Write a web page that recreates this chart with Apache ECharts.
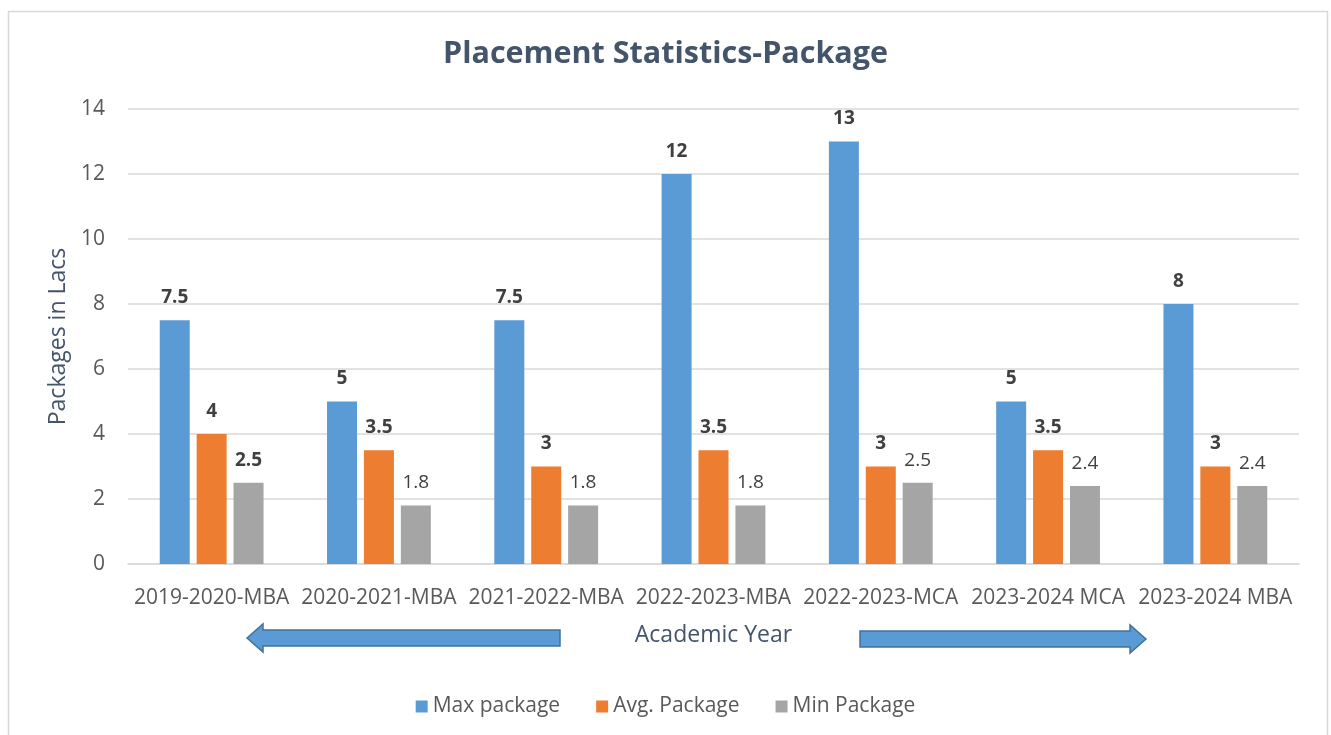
<!DOCTYPE html>
<html>
<head>
<meta charset="utf-8">
<script src="https://cdn.jsdelivr.net/npm/echarts@6/dist/echarts.min.js"></script>
<style>
    html, body { margin: 0; padding: 0; background: #fff; }
    #chart { width: 1331px; height: 735px; }
</style>
</head>
<body>
<div id="chart"></div>
<script>
// 数据
var years = ['2019-2020-MBA', '2020-2021-MBA', '2021-2022-MBA', '2022-2023-MBA', '2022-2023-MCA', '2023-2024 MCA', '2023-2024 MBA'];
var maxPackage = [7.5, 5, 7.5, 12, 13, 5, 8];
var avgPackage = [4, 3.5, 3, 3.5, 3, 3.5, 3];
var minPackage = [2.5, 1.8, 1.8, 1.8, 2.5, 2.4, 2.4];
var minBold = [true, false, false, false, false, false, false];

var font = '"Open Sans", "Noto Sans", sans-serif';

var myChart = echarts.init(document.getElementById('chart'));

function labelStyle(bold) {
    return {
        show: true,
        position: 'top',
        distance: 13,
        color: '#404040',
        fontSize: 19,
        fontFamily: font,
        fontWeight: bold ? 'bold' : 'normal'
    };
}

// 左右箭头
function arrow(x1, x2, yc, dir) {
    var sh = 8, hh = 14, hl = 16;
    var pts;
    if (dir < 0) {
        pts = [[x1, yc], [x1 + hl, yc - hh], [x1 + hl, yc - sh], [x2, yc - sh], [x2, yc + sh], [x1 + hl, yc + sh], [x1 + hl, yc + hh]];
    } else {
        pts = [[x2, yc], [x2 - hl, yc - hh], [x2 - hl, yc - sh], [x1, yc - sh], [x1, yc + sh], [x2 - hl, yc + sh], [x2 - hl, yc + hh]];
    }
    return {
        type: 'polygon',
        shape: {points: pts},
        style: {fill: '#5B9BD5', stroke: '#41719C', lineWidth: 1.5}
    };
}

var option = {
    backgroundColor: '#fff',
    title: {
        text: 'Placement Statistics-Package',
        left: 'center',
        top: 34,
        textStyle: {
            color: '#44546A',
            fontSize: 30.5,
            fontWeight: 'bold',
            fontFamily: font
        }
    },
    graphic: [
        {
            type: 'rect',
            shape: {x: 8.5, y: 11.5, width: 1319, height: 740},
            style: {fill: 'none', stroke: '#D9D9D9', lineWidth: 1.5},
            silent: true
        },
        arrow(247, 560, 638, -1),
        arrow(860, 1146, 639, 1)
    ],
    legend: {
        bottom: 13,
        left: 'center',
        itemWidth: 12,
        itemHeight: 12,
        itemGap: 36,
        icon: 'rect',
        textStyle: {color: '#595959', fontSize: 21, fontFamily: font}
    },
    grid: {
        left: 128,
        right: 32,
        top: 109,
        bottom: 171
    },
    xAxis: {
        type: 'category',
        data: years,
        name: 'Academic Year',
        nameLocation: 'middle',
        nameGap: 60,
        nameTextStyle: {color: '#44546A', fontSize: 23, fontFamily: font},
        axisTick: {show: false},
        axisLine: {lineStyle: {color: '#D9D9D9', width: 1.5}},
        axisLabel: {color: '#595959', fontSize: 21, fontFamily: font, margin: 24, interval: 0}
    },
    yAxis: {
        type: 'value',
        min: 0,
        max: 14,
        interval: 2,
        name: 'Packages in Lacs',
        nameLocation: 'middle',
        nameGap: 54,
        nameTextStyle: {color: '#44546A', fontSize: 23, fontFamily: font},
        axisLine: {show: false},
        axisTick: {show: false},
        splitLine: {lineStyle: {color: '#D9D9D9', width: 1.5}},
        axisLabel: {color: '#595959', fontSize: 21, fontFamily: font, margin: 23}
    },
    series: [
        {
            name: 'Max package',
            type: 'bar',
            barWidth: 30,
            barGap: '23%',
            itemStyle: {color: '#5B9BD5'},
            label: labelStyle(true),
            data: maxPackage
        },
        {
            name: 'Avg. Package',
            type: 'bar',
            barWidth: 30,
            barGap: '23%',
            itemStyle: {color: '#ED7D31'},
            label: labelStyle(true),
            data: avgPackage
        },
        {
            name: 'Min Package',
            type: 'bar',
            barWidth: 30,
            barGap: '23%',
            itemStyle: {color: '#A5A5A5'},
            label: {show: true},
            data: minPackage.map(function (v, i) {
                return {value: v, label: labelStyle(minBold[i])};
            })
        }
    ]
};

myChart.setOption(option);
</script>
</body>
</html>
